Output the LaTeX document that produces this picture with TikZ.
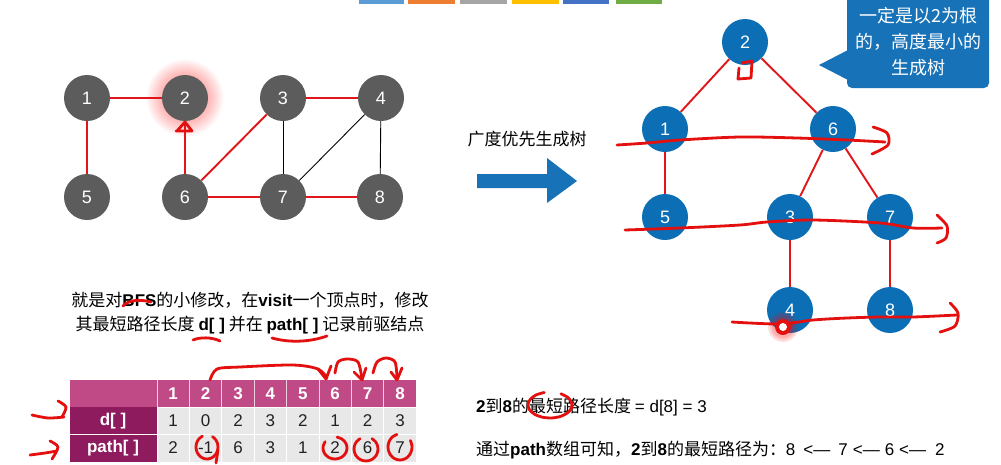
\documentclass[tikz,border=0pt]{standalone}
\usepackage{fontspec}
\setmainfont{Noto Sans CJK SC}
\newfontfamily\latin{Liberation Sans}
\usetikzlibrary{arrows.meta}

\definecolor{graynode}{HTML}{5C5C5C}
\definecolor{treeblue}{HTML}{0C6FB5}
\definecolor{calloutblue}{HTML}{1772B7}
\definecolor{edgered}{HTML}{E0161A}
\definecolor{inkred}{HTML}{E3100F}
\definecolor{headpink}{HTML}{C04A86}
\definecolor{rowhead}{HTML}{8E1B5E}
\definecolor{cellgray}{HTML}{E8E8E8}
\definecolor{textdark}{HTML}{222222}

\tikzset{
  gnode/.style={circle, fill=graynode, minimum size=46pt, inner sep=0pt,
    text=white, font=\latin\fontsize{18}{18}\selectfont},
  tnode/.style={gnode, fill=treeblue},
  redge/.style={draw=edgered, line width=1.9pt},
  bedge/.style={draw=black, line width=0.9pt},
  ink/.style={draw=inkred, line width=2.8pt, line cap=round, line join=round},
  headtext/.style={text=white, font=\latin\fontsize{17}{17}\selectfont\bfseries, inner sep=0pt},
  celltext/.style={text=textdark, font=\latin\fontsize{17}{17}\selectfont, inner sep=0pt},
  plain/.style={text=black, inner sep=0pt},
}

\begin{document}
\begin{tikzpicture}[x=1pt, y=-1pt]
\useasboundingbox (0,0) rectangle (1001,464);
\fill[white] (0,0) rectangle (1001,464);

% colour bars along the top edge
\foreach \xa/\xb/\c in {359/404/5B9BD5, 408/455/ED7D31, 460/507/A5A5A5,
                       512/559/FFC000, 563/609/4472C4, 616/662/70AD47}{
  \definecolor{barc}{HTML}{\c}
  \fill[barc] (\xa,0) rectangle (\xb,3.5);
}

% ---------- undirected graph ----------
\foreach \r in {38,36,...,24}{
  \fill[red, opacity=0.04] (185,98) circle[radius=\r];
}
\node[gnode] (L1) at (87,98) {1};
\node[gnode] (L2) at (185,98) {2};
\node[gnode] (L3) at (283,98) {3};
\node[gnode] (L4) at (381,98) {4};
\node[gnode] (L5) at (87,197) {5};
\node[gnode] (L6) at (185,197) {6};
\node[gnode] (L7) at (283,197) {7};
\node[gnode] (L8) at (380,197) {8};

\draw[redge] (L1) -- (L2);
\draw[redge] (L1) -- (L5);
\draw[redge] (L3) -- (L4);
\draw[redge] (L6) -- (L3);
\draw[redge] (L6) -- (L2);
\draw[redge] (L6) -- (L7);
\draw[redge] (L7) -- (L8);
\draw[bedge] (L3) -- (L7);
\draw[bedge] (L4) -- (L7);
\draw[bedge] (L4) -- (L8);
% hand-drawn arrow head under vertex 2
\draw[ink] (177,131) -- (185,122) -- (192,131) -- (176,131);

% ---------- big arrow and its label ----------
\node[plain, font=\fontsize{17}{17}\selectfont] (arrowlabel) at (527,139) {广度优先生成树};
\fill[calloutblue] (477,174) -- (547,174) -- (547,158) -- (577,181)
  -- (547,203) -- (547,188) -- (477,188) -- cycle;

% ---------- BFS spanning tree ----------
\node[tnode] (T2) at (745,42) {2};
\node[tnode] (T1) at (665,129) {1};
\node[tnode] (T6) at (833,129) {6};
\node[tnode] (T5) at (665,217) {5};
\node[tnode] (T3) at (790,217) {3};
\node[tnode] (T7) at (890,217) {7};
\node[tnode] (T4) at (790,310) {4};
\node[tnode] (T8) at (890,310) {8};
\draw[redge] (T2) -- (T1);
\draw[redge] (T2) -- (T6);
\draw[redge] (T1) -- (T5);
\draw[redge] (T6) -- (T3);
\draw[redge] (T6) -- (T7);
\draw[redge] (T3) -- (T4);
\draw[redge] (T7) -- (T8);

% callout
\fill[calloutblue, rounded corners=5pt] (847,-8) rectangle (989,88);
\fill[calloutblue] (819,65) -- (848,50) -- (848,80) -- cycle;
\node[text=white, align=center, font=\fontsize{18}{26}\selectfont, inner sep=0pt]
  (callout) at (918,42) {一定是以2为根\\的，高度最小的\\生成树};

% level sweeps drawn over the tree
\draw[ink] (742,63) -- (752,61) -- (751,78) -- (738,79) -- (739,68);
\draw[ink] plot[smooth] coordinates {(617,145) (647,143) (680,140) (740,137) (797,138) (847,140) (885,142)};
\draw[ink] plot[smooth] coordinates {(873,127) (887,133) (888,145) (872,154)};
\draw[ink] plot[smooth] coordinates {(625,230) (680,228) (740,225) (767,222) (813,220) (880,223) (913,228) (942,228)};
\draw[ink] plot[smooth] coordinates {(937,215) (947,226) (946,238) (937,243)};
\draw[ink] plot[smooth] coordinates {(732,322) (780,324) (813,320) (847,318) (880,317) (913,317) (957,315)};
\draw[ink] plot[smooth] coordinates {(950,303) (958,313) (955,326) (940,332)};
% pointer dot
\foreach \r in {15,13,11}{
  \fill[red, opacity=0.12] (783,327) circle[radius=\r];
}
\fill[inkred] (783,327) circle[radius=8];
\fill[white] (783,327) circle[radius=4];

% ---------- description ----------
\node[plain, font=\fontsize{17}{17}\selectfont] (desc1) at (250,300)
  {就是对{\latin\bfseries BFS}的小修改，在{\latin\bfseries visit}一个顶点时，修改};
\node[plain, font=\fontsize{17}{17}\selectfont] (desc2) at (250,325)
  {其最短路径长度 {\latin\bfseries d[ ]} 并在 {\latin\bfseries path[ ]} 记录前驱结点};
\draw[ink] (123,306) .. controls (128,300) and (140,299) .. (151,302);
\draw[ink] (193,340) .. controls (200,337) and (212,337) .. (220,341);
\draw[ink] (272,338) .. controls (290,343) and (310,342) .. (327,336);

% ---------- table ----------
\fill[headpink] (70,380) rectangle (416.2,407);
\fill[rowhead] (70,407) rectangle (157,462);
\draw[white, line width=0.8pt] (70,434) -- (157,434);
\foreach \i in {1,...,8}{
  \draw[white!75!headpink, line width=0.7pt] ({157+(\i-1)*32.4},380) -- ++(0,27);
  \node[headtext] (h\i) at ({157+(\i-0.5)*32.4},394) {\i};
}
\foreach \v [count=\i] in {1,0,2,3,2,1,2,3}{
  \path[fill=cellgray, draw=white, line width=0.8pt] ({157+(\i-1)*32.4},407) rectangle ++(32.4,27);
  \node[celltext] (d\i) at ({157+(\i-0.5)*32.4},421) {\v};
}
\foreach \v [count=\i] in {2,-1,6,3,1,2,6,7}{
  \path[fill=cellgray, draw=white, line width=0.8pt] ({157+(\i-1)*32.4},434) rectangle ++(32.4,28);
  \node[celltext] (p\i) at ({157+(\i-0.5)*32.4},448) {\v};
}
\node[headtext] (dlabel) at (113,421) {d[ ]};
\node[headtext] (plabel) at (113,448) {path[ ]};

% tracing the predecessor chain
\draw[ink] plot[smooth] coordinates {(210,380) (217,369) (240,367) (293,365) (318,369) (327,378)};
\draw[ink] (318,369) -- (326,379) -- (331,366);
\draw[ink] plot[smooth] coordinates {(335,373) (338,362) (347,359) (358,362) (362,379)};
\draw[ink] (354,372) -- (362,380) -- (366,368);
\draw[ink] plot[smooth] coordinates {(373,373) (377,362) (386,358) (395,362) (397,378)};
\draw[ink] (391,372) -- (397,380) -- (402,368);
% rings round the chain entries
\draw[ink] plot[smooth, domain=-60:245, samples=14, variable=\t] ({207+11*cos(\t)},{447+12*sin(\t)});
\draw[ink] (218,450) -- (216,463);
\draw[ink] plot[smooth, domain=-80:215, samples=14, variable=\t] ({335+12*cos(\t)},{448+11*sin(\t)});
\draw[ink] plot[smooth, domain=-60:240, samples=14, variable=\t] ({366+12*cos(\t)},{449+12*sin(\t)});
\draw[ink] plot[smooth, domain=-30:255, samples=14, variable=\t] ({400+12*cos(\t)},{447+13*sin(\t)});

% row markers
\draw[ink] plot[smooth] coordinates {(32,415) (48,418) (64,417)};
\draw[ink] plot[smooth] coordinates {(58,401) (66,407) (62,417)};
\draw[ink] plot[smooth] coordinates {(30,455) (45,453) (57,451)};
\draw[ink] plot[smooth] coordinates {(50,441) (58,447) (52,459)};

% ---------- conclusion ----------
\node[plain, anchor=west, font=\fontsize{17}{17}\selectfont] (res1) at (476,407)
  {{\latin\bfseries 2}到{\latin\bfseries 8}的最短路径长度 {\latin = d[8] = 3}};
\node[plain, anchor=west, font=\fontsize{17}{17}\selectfont] (res2) at (476,450)
  {通过{\latin\bfseries path}数组可知，{\latin\bfseries 2}到{\latin\bfseries 8}的最短路径为：{\latin 8\hspace{8pt}<—\hspace{8pt}7\hspace{5pt}<—\hspace{5pt}6\hspace{5pt}<—\hspace{9pt}2}};
\draw[ink] plot[smooth, domain=-60:255, samples=14, variable=\t] ({550+22*cos(\t)},{405+13*sin(\t)});
\end{tikzpicture}
\end{document}
